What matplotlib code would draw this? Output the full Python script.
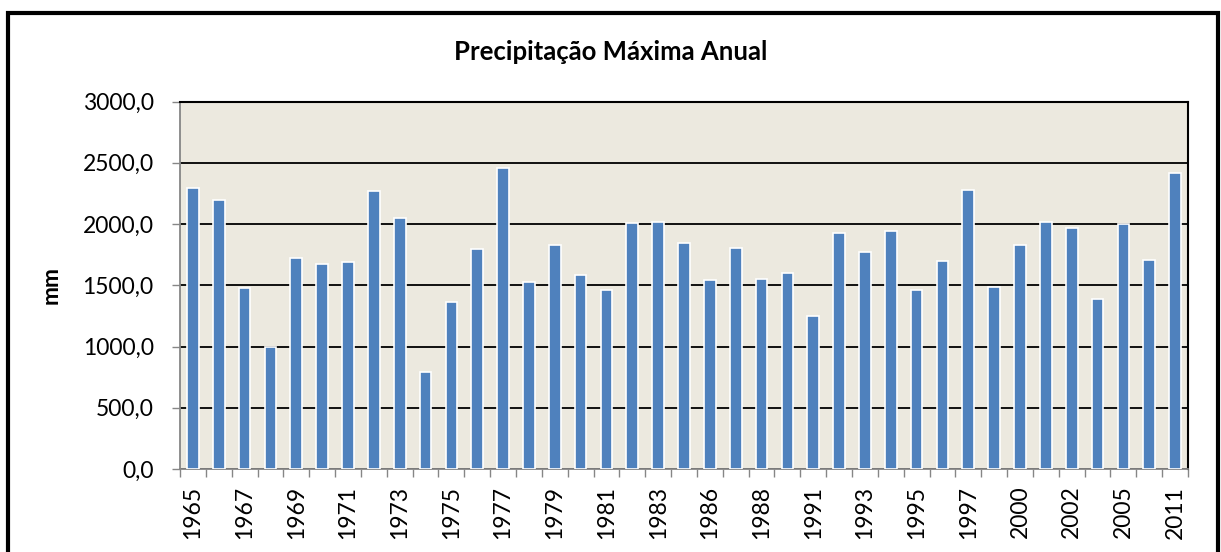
import matplotlib
matplotlib.use('Agg')
import matplotlib.pyplot as plt
from matplotlib.patches import Rectangle
from matplotlib.ticker import FuncFormatter, FixedLocator

plt.rcParams['font.family'] = ['Lato', 'DejaVu Sans']

# anos (rótulos intermediários não aparecem no gráfico original)
anos = ['1965', '1966', '1967', '1968', '1969', '1970', '1971', '1972', '1973', '1974',
        '1975', '1976', '1977', '1978', '1979', '1980', '1981', '1982', '1983', '1984',
        '1986', '1987', '1988', '1989', '1991', '1992', '1993', '1994', '1995', '1996',
        '1997', '1998', '2000', '2001', '2002', '2004', '2005', '2008', '2011']
precip = [2297, 2197, 1481, 999, 1720, 1674, 1688, 2270, 2050, 795,
          1361, 1797, 2455, 1524, 1826, 1581, 1459, 2006, 2014, 1843,
          1541, 1802, 1552, 1603, 1247, 1924, 1769, 1946, 1459, 1701,
          2281, 1483, 1829, 2017, 1971, 1388, 2001, 1707, 2420]
titulo = 'Precipitação Máxima Anual'

W, H = 1221, 552
fig = plt.figure(figsize=(W / 100, H / 100), dpi=100)
ax = fig.add_axes([180 / W, 1 - 469 / H, (1188 - 180) / W, (469 - 101.5) / H])
ax.set_facecolor('#ECE9DF')

x = list(range(len(anos)))
ax.bar(x, precip, width=0.45, color='#4F81BD', edgecolor='white', linewidth=1.2, zorder=3)

ax.set_xlim(-0.5, len(anos) - 0.5)
ax.set_ylim(0, 3000)
ax.set_yticks(range(0, 3001, 500))
ax.yaxis.set_major_formatter(FuncFormatter(lambda v, p: f'{v:.1f}'.replace('.', ',')))
ax.grid(axis='y', color='black', linewidth=1.3, zorder=1)
ax.set_axisbelow(True)

ax.set_xticks(x[::2])
ax.set_xticklabels(anos[::2], rotation=90, fontsize=16.5)
ax.xaxis.set_minor_locator(FixedLocator([i - 0.5 for i in range(len(anos) + 1)]))
ax.tick_params(axis='x', which='major', length=0, pad=12)
ax.tick_params(axis='x', which='minor', length=6, color='#868686', width=1)
ax.tick_params(axis='y', length=6, color='#868686', width=1, labelsize=16.5, pad=13)

for s in ['left', 'bottom']:
    ax.spines[s].set_color('#868686')
    ax.spines[s].set_linewidth(1.3)
for s in ['top', 'right']:
    ax.spines[s].set_color('black')
    ax.spines[s].set_linewidth(1.5)

ax.set_ylabel('mm', fontsize=16.5, fontweight='bold')
ax.yaxis.set_label_coords((62 - 180) / (1188 - 180), 0.5)
fig.text(611 / W, 1 - 52 / H, titulo, ha='center', va='center',
         fontsize=18.5, fontweight='bold')

# moldura externa
fig.patches.append(Rectangle((8 / W, -0.05), (1218 - 8) / W, 1.05 - 13 / H,
                             transform=fig.transFigure, fill=False,
                             edgecolor='black', linewidth=3))

fig.savefig('out.png', dpi=100)
